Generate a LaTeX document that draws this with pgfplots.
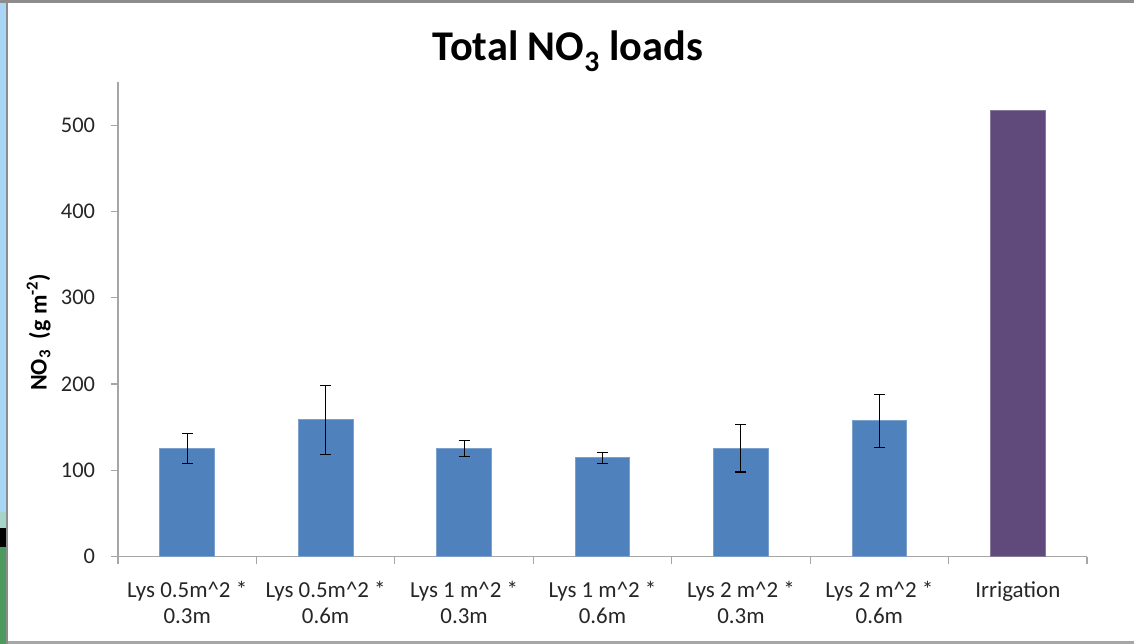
\documentclass[border=0pt]{standalone}
\usepackage{pgfplots}
\pgfplotsset{compat=1.18}
\usepackage{pgfplotstable}
\usepackage{fontspec}
\setmainfont{Carlito}
\definecolor{barblue}{HTML}{4F81BD}
\definecolor{barpurple}{HTML}{604A7B}
\definecolor{axgray}{HTML}{A6A6A6}
\definecolor{framegray}{HTML}{8C8C8C}
\definecolor{framegrayl}{HTML}{A6A6A6}
\definecolor{frameblue}{HTML}{A9D6F5}
\definecolor{frameteal}{HTML}{A8D4C8}
\definecolor{framegreen}{HTML}{4E9A5E}
\pgfplotstableread{
x y err
0 125.6 17.4
1 158.7 40.0
2 125.6 9.5
3 114.7 6.4
4 125.6 27.5
5 157.6 30.7
}\lysdata
\pgfplotstableread{
x y
6 517
}\irrdata
\begin{document}
\begin{tikzpicture}[x=1bp,y=1bp]
\path[use as bounding box] (0,0) rectangle (1134,644);
\fill[white] (0,0) rectangle (1134,644);
% screenshot frame
\fill[framegray] (0,641) rectangle (1134,644);
\fill[framegrayl] (0,0) rectangle (1134,2.5);
\fill[frameblue] (0,132) rectangle (6,641);
\fill[frameteal] (0,116) rectangle (6,132);
\fill[black] (0,97) rectangle (6,116);
\fill[framegreen] (0,0) rectangle (6,97);
\fill[framegray] (6,0) rectangle (8,641);
\begin{axis}[
  at={(118bp,87.3bp)}, anchor=south west,
  scale only axis, width=969bp, height=474.7bp,
  xmin=-0.5, xmax=6.5, ymin=0, ymax=550,
  axis x line=bottom, axis y line=left,
  axis line style={axgray, line width=1.2bp, -},
  xtick={0,...,6},
  xticklabels={{Lys 0.5m\textasciicircum2 *\\0.3m},{Lys 0.5m\textasciicircum2 *\\0.6m},{Lys 1 m\textasciicircum2 *\\0.3m},{Lys 1 m\textasciicircum2 *\\0.6m},{Lys 2 m\textasciicircum2 *\\0.3m},{Lys 2 m\textasciicircum2 *\\0.6m},{Irrigation}},
  xticklabel style={align=center, font=\fontsize{23}{26.6}\selectfont, text=black!85, anchor=north, yshift=-14bp},
  major x tick style={draw=none},
  minor xtick={-0.5,0.5,...,6.5},
  minor x tick style={axgray, line width=1.2bp},
  ytick={0,100,...,500},
  yticklabel style={font=\fontsize{22.5}{28}\selectfont, text=black!85, xshift=-12.5bp},
  major y tick style={axgray, line width=1.2bp},
  tick align=outside,
  major tick length=7bp, minor tick length=7bp,
  /pgf/number format/assume math mode=true,
  ybar, bar width=0.395,
  clip=false,
]
\addplot[bar shift=0, fill=barblue, draw=barblue!75!white, line width=0.8bp,
  error bars/.cd, y dir=both, y explicit,
  error bar style={black, line width=1.1bp},
  error mark options={rotate=90, mark size=5.5bp, black, line width=1.1bp}]
  table[x=x, y=y, y error=err] {\lysdata};
\addplot[bar shift=0, fill=barpurple, draw=barpurple!75!white, line width=0.8bp]
  table[x=x, y=y] {\irrdata};
\end{axis}
\node[anchor=base, font=\fontsize{42.5}{50}\bfseries\selectfont] at (568,583.3) {Total NO\textsubscript{3} loads};
\node[rotate=90, anchor=base, inner sep=0pt, font=\fontsize{24}{28}\bfseries\selectfont] at (46.7,311.6) {NO\textsubscript{3}\ \ (g m\textsuperscript{-2})};
\end{tikzpicture}
\end{document}
